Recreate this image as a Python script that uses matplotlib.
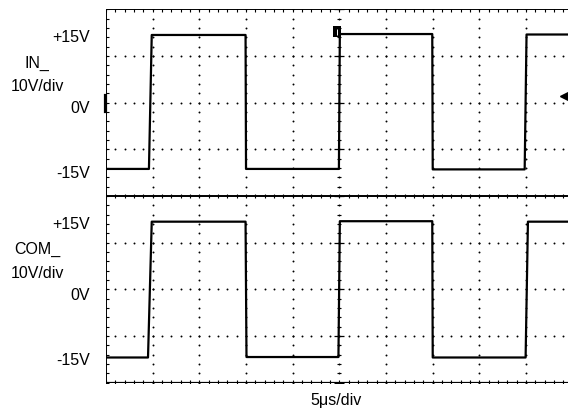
import numpy as np
import matplotlib
matplotlib.use("Agg")
import matplotlib.pyplot as plt
from matplotlib.patches import Rectangle

plt.rcParams['font.family'] = ['Liberation Sans', 'DejaVu Sans']

# traces (time in us, level in volts)
in_t = [0.0, 4.6, 4.9, 14.95, 15.0, 24.95, 25.05, 34.95, 35.0, 44.85, 45.05, 50.0]
in_v = [-14.2, -14.2, 14.5, 14.5, -14.2, -14.2, 14.7, 14.7, -14.3, -14.3, 14.6, 14.6]
com_t = [0.0, 4.5, 4.9, 14.95, 15.05, 24.9, 25.05, 34.95, 35.0, 44.95, 45.2, 50.0]
com_v = [-14.6, -14.6, 14.5, 14.5, -14.5, -14.5, 14.6, 14.6, -14.6, -14.6, 14.5, 14.5]

ch_names = ["IN_", "COM_"]
ch_zero = [6.0, 2.0]          # 0V line of each channel in divisions
volt_labels = ["+15V", "0V", "-15V"]
volt_vals = [15, 0, -15]
vdiv = 10.0                   # V per division
tdiv = 5.0                    # us per division

W, H = 568, 412
fig = plt.figure(figsize=(W / 100, H / 100), dpi=100)
left, top, bot = 106, 9.3, 382.7
dpx = (bot - top) / 8
ax = fig.add_axes([left / W, (H - bot) / H, 10 * dpx / W, (bot - top) / H])
ax.set_xlim(0, 10 * tdiv)
ax.set_ylim(0, 8)
ax.axis('off')

k = 'black'
# solid frame lines
ax.plot([0, 50], [8, 8], color=k, lw=1.4)
ax.plot([0, 50], [0, 0], color=k, lw=1.6)
ax.plot([0, 50], [4, 4], color=k, lw=1.4)
ax.plot([0, 0], [0, 8], color=k, lw=1.4)

# dotted graticule
minor_x = np.arange(0, 50.01, 1.0)
minor_y = np.arange(0, 8.01, 0.2)
for gy in [1, 2, 3, 5, 6, 7]:
    ax.plot(minor_x, np.full_like(minor_x, gy), ls='none', marker='o', ms=1.4, color=k, mew=0)
for gx in [5, 10, 15, 20, 25, 30, 35, 40, 45]:
    ax.plot(np.full_like(minor_y, gx), minor_y, ls='none', marker='o', ms=1.4, color=k, mew=0)

# ticks on frame and centre lines
for yy in [8, 0]:
    ax.plot(minor_x, np.full_like(minor_x, yy), ls='none', marker='|', ms=4.5, mew=0.8, color=k)
ax.plot(minor_x, np.full_like(minor_x, 4), ls='none', marker='|', ms=3.5, mew=0.8, color=k)
ax.plot(np.zeros_like(minor_y), minor_y, ls='none', marker='_', ms=4.5, mew=0.8, color=k)
ax.plot(np.full_like(minor_y, 25), minor_y, ls='none', marker='_', ms=3.5, mew=0.8, color=k)
ax.plot(np.full(9, 25.0), np.arange(9), ls='none', marker='_', ms=7, mew=0.9, color=k)

# traces
ax.plot(in_t, ch_zero[0] + np.array(in_v) / vdiv, color=k, lw=1.6)
ax.plot(com_t, ch_zero[1] + np.array(com_v) / vdiv, color=k, lw=1.6)

# screen markers
mx, my = 24.75, ch_zero[0] + 15.2 / vdiv
ax.add_patch(Rectangle((mx - 0.42, my - 0.12), 0.84, 0.24, color=k, lw=0, zorder=3))
ax.plot([mx], [my], marker='|', ms=4, mew=0.7, color='white', zorder=4)
ax.plot([-0.15, -0.15], [ch_zero[0] - 0.17, ch_zero[0] + 0.17], color=k, lw=2.3, clip_on=False)
ax.plot([49.3], [ch_zero[0] + 1.4 / vdiv], marker='<', ms=9, color=k, clip_on=False)

# labels
label_dy = [-5, -6, -1]
for name, z in zip(ch_names, ch_zero):
    ax.annotate(name, xy=(0, z + 0.87), xycoords=('axes fraction', 'data'),
                xytext=(-69, -1), textcoords='offset pixels', ha='center', va='center', fontsize=11.5)
    ax.annotate("10V/div", xy=(0, z + 0.37), xycoords=('axes fraction', 'data'),
                xytext=(-69, -1), textcoords='offset pixels', ha='center', va='center', fontsize=11.5)
    for lab, v, dy in zip(volt_labels, volt_vals, label_dy):
        ax.annotate(lab, xy=(0, z + v / vdiv), xycoords=('axes fraction', 'data'),
                    xytext=(-16, dy), textcoords='offset pixels', ha='right', va='center', fontsize=11.5)

fig.text(336 / W, 1 - 401 / H, "5\u03bcs/div", ha='center', va='center', fontsize=11.5)

fig.savefig("out.png", dpi=100)
